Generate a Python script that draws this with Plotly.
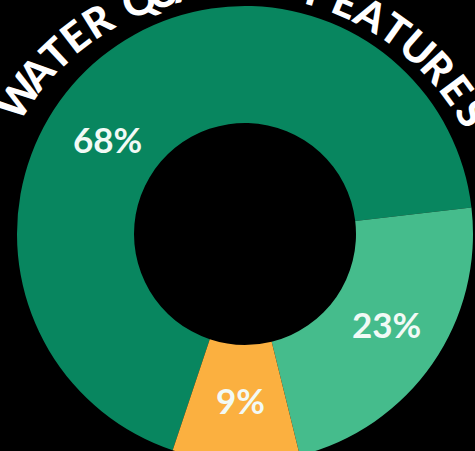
import math
import plotly.graph_objects as go

# data
labels = ["Dark green", "Light green", "Orange"]
values = [68, 23, 9]
pct_text = ["68%", "23%", "9%"]
title_words = ["WATER", "QUALITY", "FEATURES"]

colors = ["#08865f", "#45bc8c", "#fbb040"]

W, H = 475, 468          # figure taller than the window, bottom is clipped
cx, cy = 245, 234        # donut centre in px
R = 228                  # outer radius in px


def to_paper(px, py):
    return px / W, 1 - py / H


fig = go.Figure()

fig.add_trace(go.Pie(
    labels=labels, values=values,
    marker=dict(colors=colors, line=dict(width=0)),
    hole=111 / R,
    sort=False,
    direction='clockwise',
    rotation=198.5,
    textinfo='none',
    hoverinfo='skip',
    showlegend=False,
    domain=dict(x=[(cx - R) / W, (cx + R) / W], y=[(H - cy - R) / H, (H - cy + R) / H]),
))

annotations = []

# percentage labels (angle clockwise from 12 o'clock, radius px)
label_pos = [(304.5, 167), (122.5, 168), (181.7, 166)]
for txt, (ang, r) in zip(pct_text, label_pos):
    a = math.radians(ang)
    x, y = to_paper(cx + r * math.sin(a), cy - r * math.cos(a))
    annotations.append(dict(
        x=x, y=y, xref='paper', yref='paper', text=txt, showarrow=False,
        font=dict(family='Lato', size=35, color='#f2faf6', weight='bold'),
        xanchor='center', yanchor='middle',
    ))

# curved title along an arc above the ring (angular advance per letter, deg)
word_adv = [5.7, 5.2, 6.1]
space_adv = [4.5, 4.0]
special = {'W': 7.0, 'I': 3.2}
tcx, tcy, r_title = 240, 250, 270

letters = []
ang = -55.3
prev = None
for wi, (word, adv) in enumerate(zip(title_words, word_adv)):
    for k, ch in enumerate(word):
        a_ch = special.get(ch, adv)
        if prev is not None:
            ang += prev / 2 + a_ch / 2
            if k == 0:
                ang += space_adv[wi - 1]
        letters.append((ch, ang))
        prev = a_ch

for ch, ang in letters:
    a = math.radians(ang)
    x, y = to_paper(tcx + r_title * math.sin(a), tcy - r_title * math.cos(a))
    annotations.append(dict(
        x=x, y=y, xref='paper', yref='paper', text=ch, showarrow=False,
        textangle=ang,
        font=dict(family='Lato', size=41, color='white', weight=900),
        xanchor='center', yanchor='middle',
    ))

fig.update_layout(
    width=W, height=H,
    margin=dict(l=0, r=0, t=0, b=0),
    paper_bgcolor='black',
    plot_bgcolor='black',
    annotations=annotations,
)

fig.write_html(
    "out.html",
    config={'displayModeBar': False},
    post_script="document.body.style.margin='0';document.body.style.background='black';"
                "document.body.style.overflow='hidden';"
                "document.documentElement.style.overflow='hidden';",
)
